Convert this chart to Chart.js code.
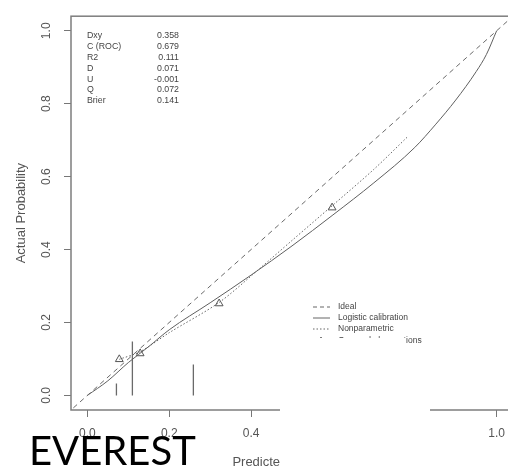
<!DOCTYPE html>
<html>
<head>
<meta charset="utf-8">
<script src="https://cdn.jsdelivr.net/npm/chart.js@4.4.1/dist/chart.umd.min.js"></script>
<style>
  html, body { margin: 0; padding: 0; background: #fff; overflow: hidden; }
  #wrap { position: relative; width: 508px; height: 470px; overflow: hidden; }
  #box { position: absolute; left: 0; top: 0; width: 520px; height: 470px; }
  #everest {
    position: absolute; left: 29px; top: 430px;
    font-family: Lato, 'Liberation Sans', sans-serif; font-size: 40px; line-height: 40px;
    color: #000; white-space: nowrap;
  }
</style>
</head>
<body>
<div id="wrap">
  <div id="box"><canvas id="calib"></canvas></div>
  <div id="everest">EVEREST</div>
</div>
<script>
//Data läst från bilden
const idealX = [-0.1, 1.1];
const idealY = [-0.1, 1.1];

const logisticX = [0, 0.05, 0.1, 0.15, 0.2, 0.3, 0.4, 0.5, 0.6, 0.7, 0.8, 0.85, 0.9, 0.95, 0.975, 1.0];
const logisticY = [0, 0.04, 0.09, 0.134, 0.18, 0.254, 0.33, 0.41, 0.495, 0.583, 0.68, 0.742, 0.81, 0.888, 0.935, 1.0];

const nonparX = [0.078, 0.129, 0.2, 0.322, 0.42, 0.5, 0.6, 0.7, 0.783];
const nonparY = [0.099, 0.12, 0.172, 0.255, 0.347, 0.425, 0.522, 0.62, 0.71];

const groupX = [0.078, 0.129, 0.322, 0.598];
const groupY = [0.099, 0.115, 0.252, 0.515];

//Spikes längst ner (fördelning av prediktioner)
const spikeX = [0.071, 0.11, 0.259];
const spikeTop = [0.033, 0.148, 0.085];

const xTicks = [0, 0.2, 0.4, 0.6, 0.8, 1.0];
const yTicks = [0, 0.2, 0.4, 0.6, 0.8, 1.0];
const xTickLabels = ['0.0', '0.2', '0.4', '0.6', '0.8', '1.0'];
const yTickLabels = ['0.0', '0.2', '0.4', '0.6', '0.8', '1.0'];

const statNames = ['Dxy', 'C (ROC)', 'R2', 'D', 'U', 'Q', 'Brier'];
const statValues = ['0.358', '0.679', '0.111', '0.071', '-0.001', '0.072', '0.141'];

const legendNames = ['Ideal', 'Logistic calibration', 'Nonparametric', 'Grouped observations'];

const pts = (xs, ys) => xs.map((x, i) => ({ x: x, y: ys[i] }));

const lineGrey = '#5f5f5f';
const textGrey = '#555';
const font = 'Liberation Sans, Arial, sans-serif';

const datasets = [
  {
    label: legendNames[0],
    data: pts(idealX, idealY),
    borderColor: '#6a6a6a',
    borderWidth: 1,
    borderDash: [5, 4],
    pointRadius: 0,
  },
  {
    label: legendNames[1],
    data: pts(logisticX, logisticY),
    borderColor: lineGrey,
    borderWidth: 1,
    cubicInterpolationMode: 'monotone',
    pointRadius: 0,
  },
  {
    label: legendNames[2],
    data: pts(nonparX, nonparY),
    borderColor: '#666',
    borderWidth: 1,
    borderDash: [1.5, 2],
    tension: 0.3,
    pointRadius: 0,
  },
  {
    label: legendNames[3],
    data: pts(groupX, groupY),
    showLine: false,
    pointStyle: 'triangle',
    pointRadius: 4.5,
    borderColor: '#555',
    backgroundColor: 'rgba(0,0,0,0)',
    borderWidth: 1,
  },
];

//En dataset per spike
spikeX.forEach((x, i) => {
  datasets.push({
    label: 'spike' + i,
    data: [{ x: x, y: 0 }, { x: x, y: spikeTop[i] }],
    borderColor: '#6a6a6a',
    borderWidth: 1.3,
    pointRadius: 0,
  });
});

//Ram, statistik, legend och överskylande vit ruta
const extras = {
  id: 'extras',
  afterDraw(chart) {
    const ctx = chart.ctx;
    const a = chart.chartArea;
    ctx.save();

    ctx.strokeStyle = '#7d7d7d';
    ctx.lineWidth = 1.5;
    ctx.strokeRect(a.left, a.top, a.right - a.left, a.bottom - a.top);

    ctx.font = '8.8px ' + font;
    ctx.fillStyle = '#444';
    ctx.textBaseline = 'middle';
    statNames.forEach((name, i) => {
      const y = 36 + i * 10.8;
      ctx.textAlign = 'left';
      ctx.fillText(name, a.left + 16, y);
      ctx.textAlign = 'right';
      ctx.fillText(statValues[i], a.left + 108, y);
    });

    //legend
    const lx0 = 313, lx1 = 330, tx = 338;
    const rows = [307, 318, 329, 340.5];
    ctx.font = '8.5px ' + font;
    ctx.textAlign = 'left';
    ctx.strokeStyle = '#666';
    ctx.lineWidth = 1;
    rows.forEach((y, i) => {
      ctx.setLineDash(i === 0 ? [4, 3] : i === 2 ? [1.5, 2] : []);
      if (i < 3) {
        ctx.beginPath();
        ctx.moveTo(lx0, y);
        ctx.lineTo(lx1, y);
        ctx.stroke();
      } else {
        ctx.beginPath();
        ctx.moveTo(321, y - 3.5);
        ctx.lineTo(325, y + 3);
        ctx.lineTo(317, y + 3);
        ctx.closePath();
        ctx.stroke();
      }
      ctx.fillText(legendNames[i], tx, y);
    });
    ctx.setLineDash([]);

    //vit ruta som döljer en del av bilden
    ctx.fillStyle = '#fff';
    ctx.fillRect(280, 338, 126, 140);
    ctx.fillRect(405, 345, 25, 140);
    ctx.restore();
  },
};

const chartConfig = {
  type: 'line',
  data: { datasets: datasets },
  options: {
    responsive: true,
    maintainAspectRatio: false,
    animation: false,
    layout: { padding: { left: 0, top: 14, right: 7, bottom: 0 } },
    plugins: {
      legend: { display: false },
      tooltip: { enabled: false },
    },
    scales: {
      x: {
        type: 'linear',
        position: 'bottom',
        min: -0.04,
        max: 1.04,
        afterBuildTicks: (s) => { s.ticks = xTicks.map((v) => ({ value: v })); },
        afterFit: (s) => { s.height = 60; },
        ticks: {
          callback: (v) => xTickLabels[xTicks.indexOf(v)],
          padding: 9,
          maxRotation: 0,
          color: textGrey,
          font: { size: 12, family: font },
        },
        grid: { drawOnChartArea: false, drawTicks: true, tickLength: 7, color: '#777', lineWidth: 1 },
        border: { display: false },
        title: {
          display: true,
          text: 'Predicted Probability',
          color: textGrey,
          padding: { top: 0, bottom: 0 },
          font: { size: 13, family: font },
        },
      },
      y: {
        type: 'linear',
        position: 'left',
        min: -0.04,
        max: 1.04,
        afterBuildTicks: (s) => { s.ticks = yTicks.map((v) => ({ value: v })); },
        afterFit: (s) => { s.width = 71; },
        ticks: {
          callback: (v) => yTickLabels[yTicks.indexOf(v)],
          padding: 9,
          minRotation: 90,
          maxRotation: 90,
          crossAlign: 'center',
          color: textGrey,
          font: { size: 12, family: font },
        },
        grid: { drawOnChartArea: false, drawTicks: true, tickLength: 7, color: '#777', lineWidth: 1 },
        border: { display: false },
        title: {
          display: true,
          text: 'Actual Probability',
          color: textGrey,
          padding: { top: 14, bottom: 0 },
          font: { size: 13, family: font },
        },
      },
    },
  },
  plugins: [extras],
};

window.calibChart = new Chart(document.getElementById('calib'), chartConfig);
</script>
</body>
</html>
